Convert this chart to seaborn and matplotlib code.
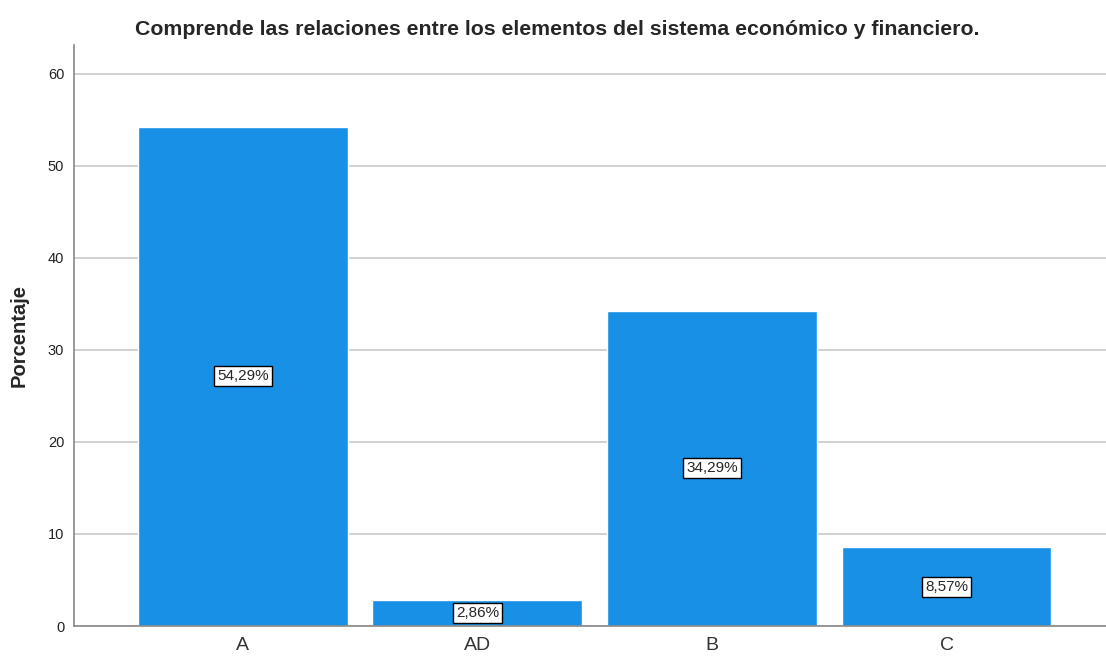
import pandas as pd
import seaborn as sns
import matplotlib.pyplot as plt

categorias = ['A', 'AD', 'B', 'C']
porcentajes = [54.29, 2.86, 34.29, 8.57]
etiquetas = ['54,29%', '2,86%', '34,29%', '8,57%']

df = pd.DataFrame({'categoria': categorias, 'porcentaje': porcentajes})

sns.set_style('white')
plt.rcParams['font.family'] = ['Liberation Sans', 'DejaVu Sans']

fig = plt.figure(figsize=(11.06, 6.58), dpi=100)
ax = fig.add_axes([74 / 1106, 1 - 626 / 658, 1 - 74 / 1106, (626 - 45) / 658])

sns.barplot(x='categoria', y='porcentaje', data=df, color='#1790e5',
            saturation=1, width=0.895, ax=ax, zorder=2)

# etiquetas en el centro de cada barra
for i, (v, t) in enumerate(zip(porcentajes, etiquetas)):
    ax.text(i, v / 2, t, ha='center', va='center', fontsize=11, zorder=3,
            bbox=dict(boxstyle='square,pad=0.2', fc='white', ec='black', lw=1))

ax.set_ylim(0, 63.15)
ax.set_xlim(-0.72, 3.68)
ax.set_yticks(range(0, 61, 10))
ax.yaxis.grid(True, color='#c8c8c8', lw=1.2, zorder=0)
ax.set_axisbelow(True)
for s in ['top', 'right']:
    ax.spines[s].set_visible(False)
for s in ['left', 'bottom']:
    ax.spines[s].set_color('#888888')
    ax.spines[s].set_linewidth(1.2)
ax.tick_params(axis='y', labelsize=10.5, length=0, pad=7, colors='#222222')
ax.tick_params(axis='x', labelsize=14, length=0, pad=8, colors='#333333')
ax.set_xlabel('')
ax.set_ylabel('Porcentaje', fontsize=14.5, fontweight='bold', labelpad=14)

fig.suptitle('Comprende las relaciones entre los elementos del sistema económico y financiero.',
             fontsize=15.3, fontweight='bold', x=0.504, y=0.97)

fig.savefig('out.png', dpi=100)
